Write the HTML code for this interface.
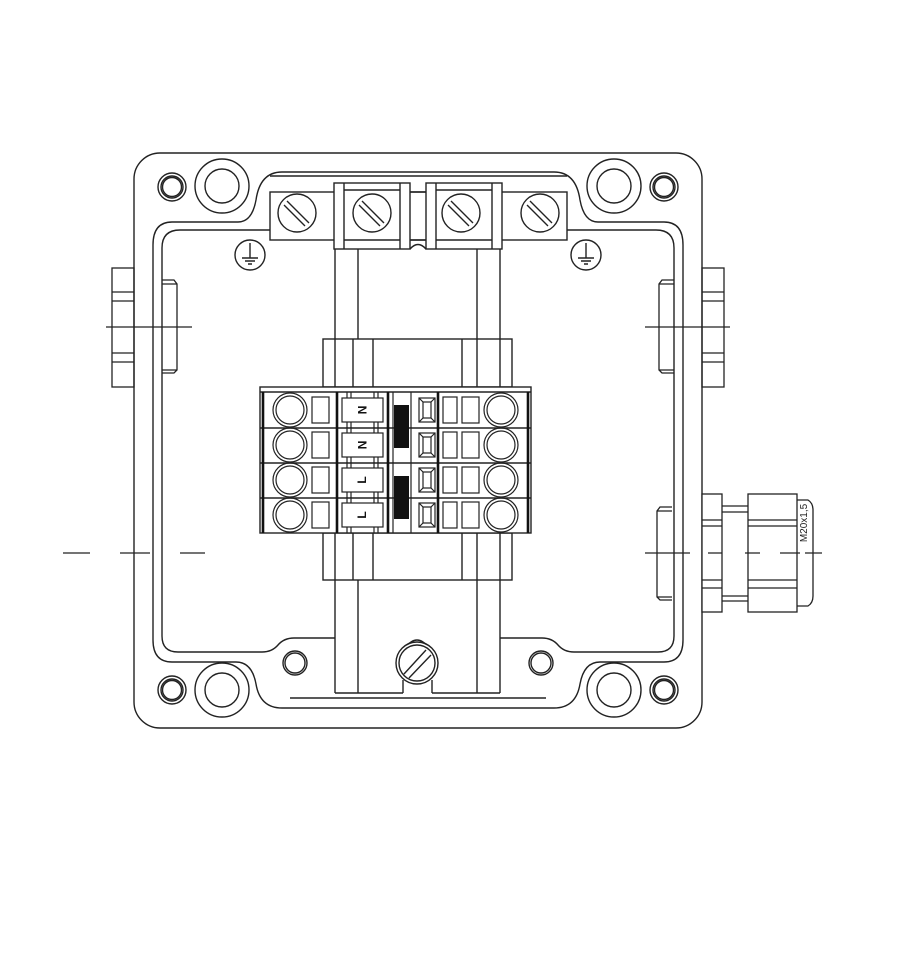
<!DOCTYPE html>
<html><head><meta charset="utf-8"><style>
html,body{margin:0;padding:0;background:#fff;}
svg{display:block;}
</style></head><body>
<svg width="904" height="960" viewBox="0 0 904 960" xmlns="http://www.w3.org/2000/svg">
<g fill="none" stroke="#222" stroke-width="1.4">
<!-- outer box -->
<rect x="134" y="153" width="568" height="575" rx="26"/>
<!-- gasket outer path -->
<path d="M153 245 Q153 222 172 222 L238 222 Q252 222 256 200 Q260 172 282 172 L554 172 Q576 172 580 200 Q584 222 598 222 L664 222 Q683 222 683 245 L683 640 Q683 662 664 662 L600 662 Q584 662 580 684 Q576 708 554 708 L282 708 Q260 708 256 684 Q252 662 236 662 L172 662 Q153 662 153 640 Z"/>
<!-- inner path -->
<path d="M270 230 L180 230 Q162 230 162 248 L162 636 Q162 652 178 652 L262 652 Q272 652 278 645 Q284 638 294 638 L335 638"/>
<path d="M567 230 L656 230 Q674 230 674 248 L674 636 Q674 652 658 652 L574 652 Q564 652 558 645 Q552 638 542 638 L500 638"/>
<path d="M270 176 L567 176"/>
<path d="M290 698 L546 698"/>
<!-- bosses -->
<circle cx="222" cy="186" r="27"/><circle cx="222" cy="186" r="17"/>
<circle cx="614" cy="186" r="27"/><circle cx="614" cy="186" r="17"/>
<circle cx="222" cy="690" r="27"/><circle cx="222" cy="690" r="17"/>
<circle cx="614" cy="690" r="27"/><circle cx="614" cy="690" r="17"/>
<circle cx="172" cy="187" r="14"/><circle cx="172" cy="187" r="11"/><circle cx="172" cy="187" r="9.5"/>
<circle cx="664" cy="187" r="14"/><circle cx="664" cy="187" r="11"/><circle cx="664" cy="187" r="9.5"/>
<circle cx="172" cy="690" r="14"/><circle cx="172" cy="690" r="11"/><circle cx="172" cy="690" r="9.5"/>
<circle cx="664" cy="690" r="14"/><circle cx="664" cy="690" r="11"/><circle cx="664" cy="690" r="9.5"/>
<circle cx="295" cy="663" r="12"/><circle cx="295" cy="663" r="10"/>
<circle cx="541" cy="663" r="12"/><circle cx="541" cy="663" r="10"/>
<!-- terminal bar top -->
<rect x="270" y="192" width="297" height="48" fill="#fff"/>
<rect x="334" y="183" width="76" height="66" fill="#fff"/>
<rect x="426" y="183" width="76" height="66" fill="#fff"/>
<path d="M344 183 L344 249 M400 183 L400 249 M344 190 L400 190 M344 240 L400 240"/>
<path d="M436 183 L436 249 M492 183 L492 249 M436 190 L492 190 M436 240 L492 240"/>
<path d="M410 240 L426 240 M410 192 L426 192"/>
<path d="M410 249 Q418 240 426 249"/>
<g>
<circle cx="297" cy="213" r="19"/><path d="M287 201 L309 223 M284 205 L305 226"/>
<circle cx="372" cy="213" r="19"/><path d="M362 201 L384 223 M359 205 L380 226"/>
<circle cx="461" cy="213" r="19"/><path d="M451 201 L473 223 M448 205 L469 226"/>
<circle cx="540" cy="213" r="19"/><path d="M530 201 L552 223 M527 205 L548 226"/>
</g>
<!-- earth symbols -->
<circle cx="250" cy="255" r="15"/><path d="M250 243 L250 258 M242 258 L258 258 M245 261 L255 261 M248 264 L252 264"/>
<circle cx="586" cy="255" r="15"/><path d="M586 243 L586 258 M578 258 L594 258 M581 261 L591 261 M584 264 L588 264"/>
<!-- rails -->
<path d="M335 249 L335 693 M358 249 L358 693 M477 249 L477 693 M500 249 L500 693"/>
<path d="M335 693 L403 693 M432 693 L500 693"/>
<!-- DIN mounts -->
<rect x="323" y="339" width="189" height="48" fill="#fff"/>
<path d="M335 339 L335 387 M353 339 L353 387 M373 339 L373 387 M462 339 L462 387 M477 339 L477 387 M500 339 L500 387"/>
<rect x="323" y="533" width="189" height="47" fill="#fff"/>
<path d="M335 533 L335 580 M353 533 L353 580 M373 533 L373 580 M462 533 L462 580 M477 533 L477 580 M500 533 L500 580"/>
<!-- bottom screw -->
<path d="M405 648 Q417 632 429 648"/>
<path d="M403 693 L403 680 M432 693 L432 680"/>
<circle cx="417" cy="663" r="21" fill="#fff"/><circle cx="417" cy="663" r="18"/>
<path d="M426 650 L404 674 M431 655 L409 678"/>
<!-- terminal block -->
<rect x="260" y="387" width="271" height="146" fill="#fff"/>
<path d="M260 392 L531 392 M260 428 L531 428 M260 463 L531 463 M260 498 L531 498"/>
</g>
<g stroke="#111" stroke-width="2.6">
<path d="M263 392 L263 533 M337 392 L337 533 M388 392 L388 533 M438 392 L438 533 M528 392 L528 533"/>
</g>
<g fill="none" stroke="#222" stroke-width="1.2">
<!-- rows -->
<g id="r">
<circle cx="290" cy="410" r="17"/><circle cx="290" cy="410" r="14"/>
<rect x="312" y="397" width="17" height="26"/>
<rect x="342" y="398" width="41" height="24" fill="#fff"/>
<path d="M347 392 L347 398 M351 392 L351 398 M374 392 L374 398 M378 392 L378 398 M347 422 L347 428 M351 422 L351 428 M374 422 L374 428 M378 422 L378 428"/>
<rect x="419" y="398" width="16" height="24"/><rect x="423" y="402" width="8" height="16"/>
<path d="M419 398 L423 402 M435 398 L431 402 M419 422 L423 418 M435 422 L431 418"/>
<path d="M393 392 L393 428 M411 392 L411 428"/>
<rect x="443" y="397" width="14" height="26"/><rect x="462" y="397" width="17" height="26"/>
<circle cx="501" cy="410" r="17"/><circle cx="501" cy="410" r="14"/>
</g>
<use href="#r" y="35"/><use href="#r" y="70"/><use href="#r" y="105"/>
</g>
<rect x="394" y="405" width="15" height="43" fill="#111"/>
<rect x="394" y="476" width="15" height="43" fill="#111"/>
<g font-family="Liberation Sans, sans-serif" font-weight="bold" font-size="12" fill="#111" text-anchor="middle">
<text transform="translate(362,410) rotate(90)" dy="4">N</text>
<text transform="translate(362,445) rotate(90)" dy="4">N</text>
<text transform="translate(362,480) rotate(-90)" dy="4">L</text>
<text transform="translate(362,515) rotate(-90)" dy="4">L</text>
</g>
<g fill="none" stroke="#222" stroke-width="1.3">
<!-- left gland stub -->
<rect x="112" y="268" width="22" height="119"/>
<path d="M112 292 L134 292 M112 301 L134 301 M112 353 L134 353 M112 362 L134 362"/>
<path d="M162 280 L174 280 L177 284 L177 370 L174 373 L162 373 M162 284 L177 284 M162 370 L177 370"/>
<path d="M106 327 L192 327"/>
<!-- right stub -->
<rect x="702" y="268" width="22" height="119"/>
<path d="M702 292 L724 292 M702 301 L724 301 M702 353 L724 353 M702 362 L724 362"/>
<path d="M674 280 L662 280 L659 284 L659 370 L662 373 L674 373 M659 284 L674 284 M659 370 L674 370"/>
<path d="M645 327 L730 327"/>
<!-- right gland -->
<path d="M672 507 L660 507 L657 511 L657 597 L660 600 L672 600 M657 511 L672 511 M657 597 L672 597"/>
<rect x="702" y="494" width="20" height="118" fill="#fff"/>
<path d="M702 520 L722 520 M702 526 L722 526 M702 580 L722 580 M702 588 L722 588"/>
<path d="M722 506 L748 506 M722 512 L748 512 M722 596 L748 596 M722 601 L748 601"/>
<rect x="748" y="494" width="49" height="118" fill="#fff"/>
<path d="M748 520 L797 520 M748 526 L797 526 M748 580 L797 580 M748 588 L797 588"/>
<path d="M797 500 L808 500 Q813 503 813 510 L813 596 Q813 603 808 606 L797 606"/>
<path d="M645 553 L690 553 M708 553 L722 553 M745 553 L760 553 M780 553 L800 553 M805 553 L822 553"/>
<!-- left dash line -->
<path d="M63 553 L90 553 M120 553 L150 553 M180 553 L205 553"/>
</g>
<text transform="translate(807,523) rotate(-90)" font-family="Liberation Sans, sans-serif" font-size="10" fill="#222" text-anchor="middle">M20x1,5</text>
</svg>
</body></html>
